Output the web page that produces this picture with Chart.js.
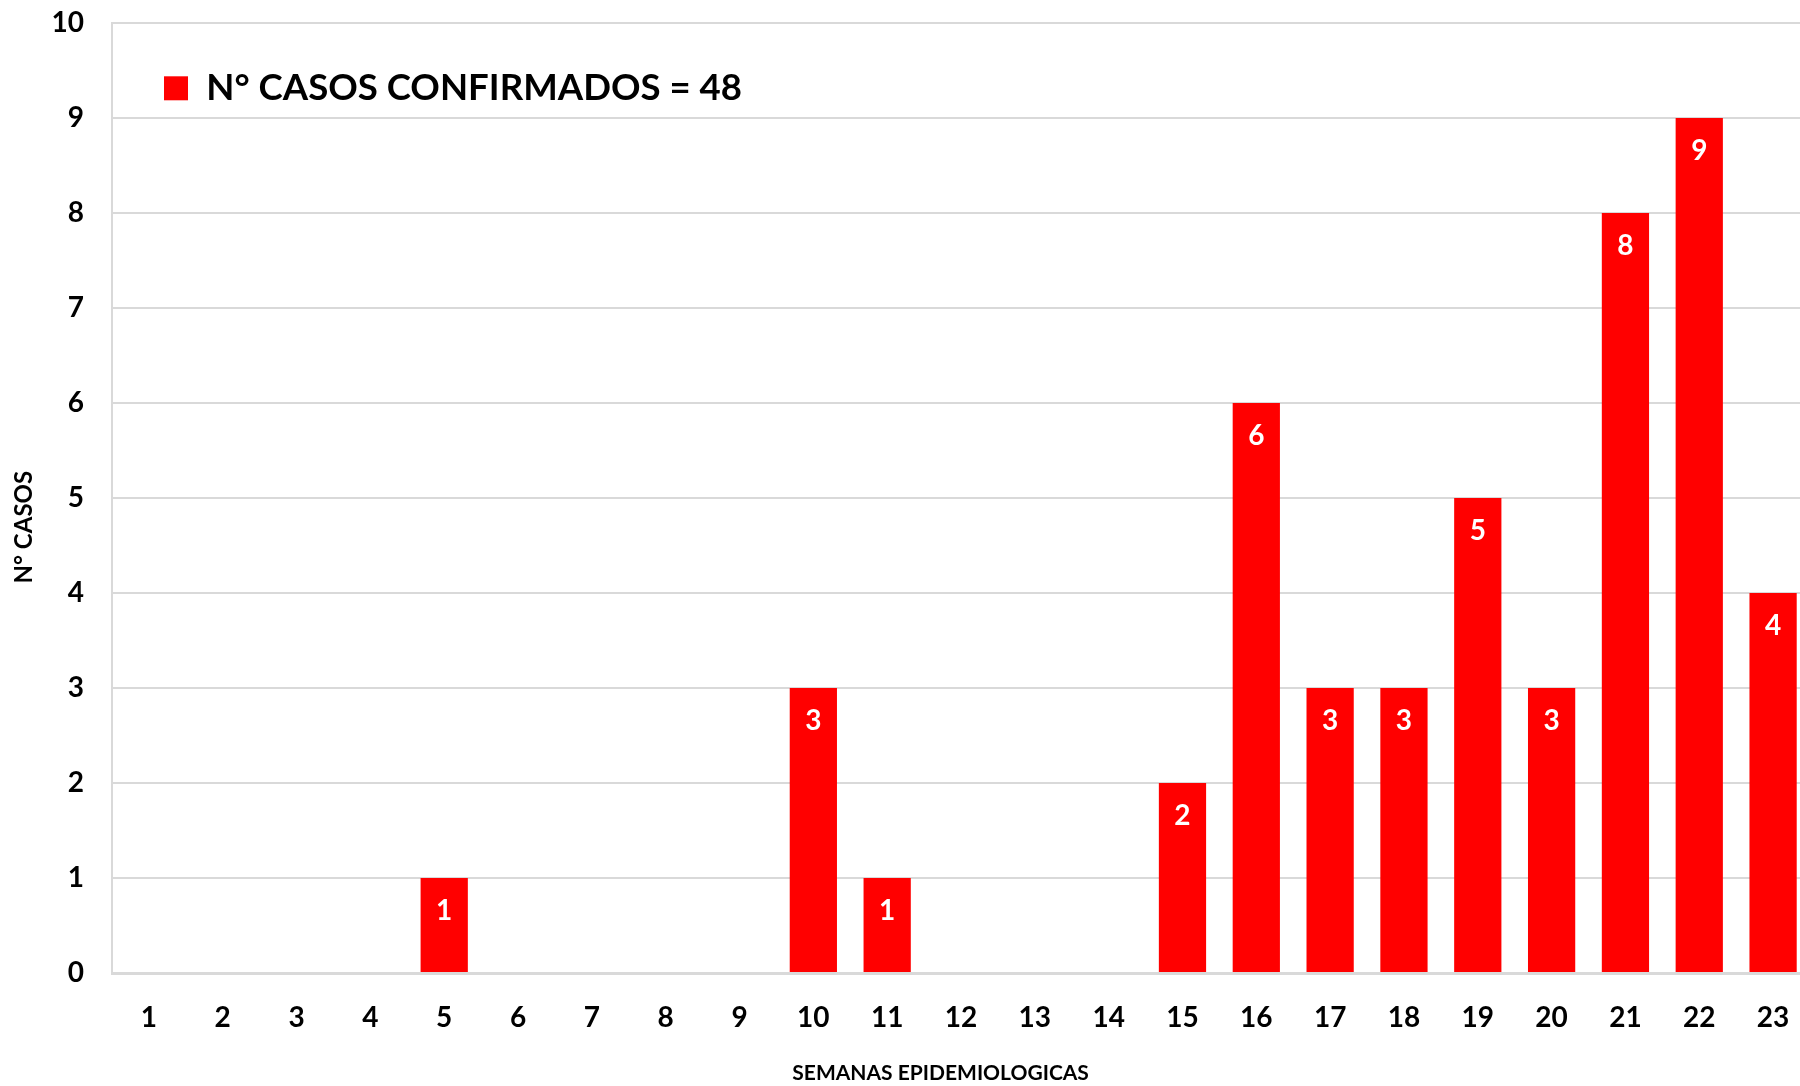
<!DOCTYPE html>
<html>
<head>
<meta charset="utf-8">
<script src="https://cdn.jsdelivr.net/npm/chart.js@4.4.0/dist/chart.umd.min.js"></script>
<style>
  html, body { margin: 0; padding: 0; background: #fff; overflow: hidden; }
  canvas { display: block; }
</style>
</head>
<body>
<canvas id="casos" width="1810" height="1086"></canvas>
<script>
// semanas epidemiologicas y casos confirmados
const semanas = ['1','2','3','4','5','6','7','8','9','10','11','12','13','14','15','16','17','18','19','20','21','22','23'];
const casos = [0,0,0,0,1,0,0,0,0,3,1,0,0,0,2,6,3,3,5,3,8,9,4];
const serieLabel = 'N° CASOS CONFIRMADOS = 48';
const yTicks = [0,1,2,3,4,5,6,7,8,9,10];

const FONT = 'Lato, "Open Sans", sans-serif';
const GRID = '#d9d9d9';

// etiquetas blancas dentro de la barra
const barLabels = {
    id: 'barLabels',
    afterLayout(chart) {
        // leyenda dentro del area del grafico
        const lg = chart.legend;
        const h = lg.bottom - lg.top;
        lg.top = chart.chartArea.top;
        lg.bottom = lg.top + h;
        lg.left = chart.chartArea.left + 5;
    },
    afterDatasetsDraw(chart) {
        const ctx = chart.ctx;
        const meta = chart.getDatasetMeta(0);
        ctx.save();
        ctx.fillStyle = '#fff';
        ctx.font = 'bold 28px ' + FONT;
        ctx.textAlign = 'center';
        ctx.textBaseline = 'middle';
        meta.data.forEach((bar, i) => {
            const v = chart.data.datasets[0].data[i];
            if (!v) return;
            ctx.fillText(String(v), bar.x, bar.y + 33);
        });
        ctx.restore();
    }
};

new Chart(document.getElementById('casos'), {
    type: 'bar',
    data: {
        labels: semanas,
        datasets: [{
            label: serieLabel,
            data: casos,
            backgroundColor: '#ff0000',
            borderWidth: 0,
            categoryPercentage: 1,
            barPercentage: 0.64
        }]
    },
    options: {
        responsive: false,
        animation: false,
        devicePixelRatio: 1,
        layout: { padding: { top: 23, left: 0, right: 0, bottom: 0 } },
        plugins: {
            tooltip: { enabled: false },
            legend: {
                position: 'chartArea',
                align: 'start',
                labels: {
                    color: '#000',
                    boxWidth: 24,
                    boxHeight: 24,
                    padding: 47,
                    font: { family: FONT, size: 36.6, weight: 'bold' }
                }
            }
        },
        scales: {
            x: {
                grid: { display: false, drawTicks: false },
                border: { color: GRID, width: 3 },
                ticks: {
                    color: '#000',
                    padding: 28,
                    font: { family: FONT, size: 28, weight: 'bold' }
                },
                title: {
                    display: true,
                    text: 'SEMANAS EPIDEMIOLOGICAS        ',
                    color: '#000',
                    padding: { top: 0, bottom: 0 },
                    font: { family: FONT, size: 21, weight: 'bold' }
                },
                afterFit(scale) {
                    scale.height = 113;
                    scale.paddingLeft = 0;
                    scale.paddingRight = 0;
                }
            },
            y: {
                min: 0,
                max: 10,
                afterBuildTicks(scale) { scale.ticks = yTicks.map(v => ({ value: v })); },
                grid: { color: GRID, lineWidth: 2, drawTicks: false },
                border: { color: GRID, width: 2 },
                ticks: {
                    color: '#000',
                    padding: 28,
                    font: { family: FONT, size: 28, weight: 'bold' }
                },
                title: {
                    display: true,
                    text: 'N° CASOS          ',
                    color: '#000',
                    padding: { top: 10, bottom: 0 },
                    font: { family: FONT, size: 24, weight: 'bold' }
                },
                afterFit(scale) {
                    scale.width = 112;
                    scale.paddingTop = 0;
                    scale.paddingBottom = 0;
                }
            }
        }
    },
    plugins: [barLabels]
});
</script>
</body>
</html>
